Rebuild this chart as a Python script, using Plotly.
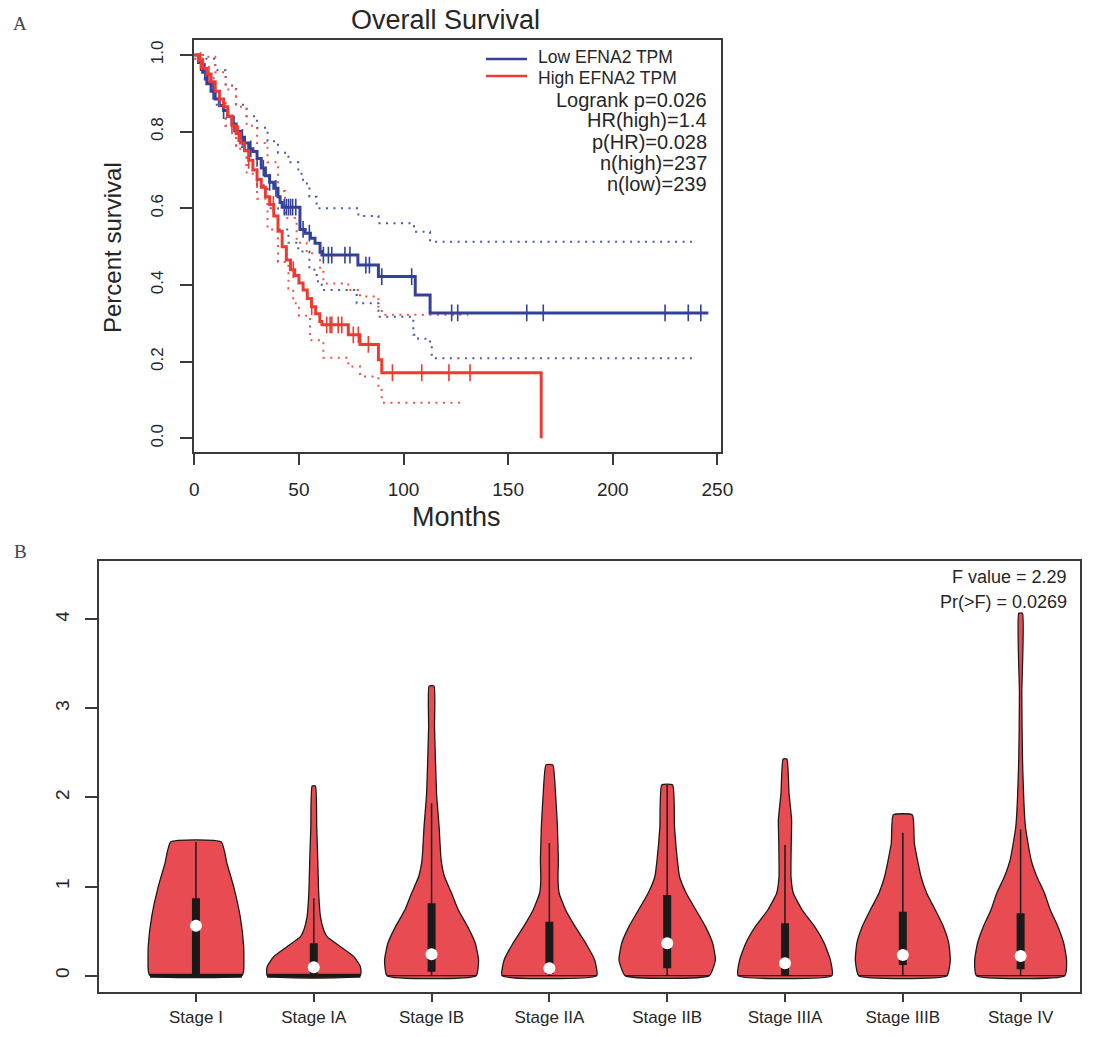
import numpy as np
import plotly.graph_objects as go

W, H = 1105, 1037

# ---------------- Panel A: Kaplan-Meier data (months, survival) ----------------
low_t = [0, 2, 4, 6, 8, 10, 12, 14, 16, 18, 20, 22, 24, 26, 28, 30, 32, 34, 36, 38, 40,
         41, 42, 50.5, 53, 55.5, 57.7, 60.1, 61, 78.2, 88, 105.6, 112.7, 245.7]
low_s = [1.0, 0.98, 0.955, 0.925, 0.905, 0.885, 0.868, 0.855, 0.84, 0.82, 0.80, 0.785, 0.77,
         0.755, 0.748, 0.73, 0.705, 0.685, 0.668, 0.652, 0.63,
         0.615, 0.603, 0.545, 0.535, 0.522, 0.509, 0.487, 0.478, 0.452, 0.422, 0.374, 0.327, 0.327]
high_t = [0, 2, 4, 6, 8, 10, 12, 14, 16, 18, 20, 22, 24, 26, 28, 30, 32, 34, 36, 38,
          40, 42, 44, 46, 48, 50, 52, 54, 56, 58, 60, 61, 73.6, 79.2, 88, 89.6, 165.8]
high_s = [1.0, 0.985, 0.965, 0.95, 0.93, 0.905, 0.885, 0.865, 0.84, 0.815,
          0.795, 0.77, 0.75, 0.725, 0.70, 0.675, 0.655, 0.63, 0.61, 0.58,
          0.54, 0.50, 0.465, 0.44, 0.425, 0.405, 0.387, 0.365, 0.343, 0.325, 0.305,
          0.296, 0.27, 0.245, 0.205, 0.171, 0.0]

low_cens = [3, 5, 9, 14, 19, 23, 27, 30, 33, 36, 39, 43, 44, 45, 46, 47, 48.5, 52, 55,
            61.7, 64.1, 65.7, 72, 74.4, 82, 83.7, 89.6, 103.9, 123, 125.9, 158.9, 166.8,
            225, 236.1, 242.1]
high_cens = [3, 7, 12, 18, 21, 26, 30, 37.8, 47.3, 56.1, 63.3, 64.9, 65.7, 68.8, 70.5,
             76, 78.4, 83.2, 94.7, 108.7, 121.7, 131.8]

low_up_t = [0, 5, 10, 15, 20, 25, 30, 35, 40, 45, 49.7, 52, 55, 58.5, 78.4, 88, 105, 112.7, 240]
low_up_s = [1.0, 0.99, 0.96, 0.92, 0.87, 0.84, 0.81, 0.775, 0.745, 0.72, 0.69, 0.665,
            0.63, 0.6, 0.58, 0.561, 0.539, 0.513, 0.513]
low_lo_t = [0, 5, 10, 15, 20, 25, 30, 35, 40, 45, 49.7, 55, 58.5, 60.9, 77.6, 88, 104.7, 107,
            112.7, 113.5, 239.4]
low_lo_s = [0.99, 0.93, 0.87, 0.815, 0.76, 0.71, 0.66, 0.6, 0.545, 0.51, 0.487, 0.44, 0.41,
            0.387, 0.352, 0.317, 0.27, 0.26, 0.243, 0.209, 0.209]
high_up_t = [0, 5, 10, 15, 20, 25, 30, 35, 40, 43.4, 48.9, 53.7, 60.1, 61.7, 73.6, 79.2, 88, 89.6, 131]
high_up_s = [1.0, 0.995, 0.955, 0.91, 0.865, 0.815, 0.77, 0.72, 0.645, 0.575, 0.51, 0.483,
             0.44, 0.404, 0.387, 0.37, 0.343, 0.322, 0.322]
high_lo_t = [0, 5, 10, 15, 20, 25, 30, 35, 40, 45, 47.3, 50, 55.3, 61.7, 73.6, 79.2, 88, 89.6, 129.4]
high_lo_s = [0.99, 0.94, 0.875, 0.815, 0.755, 0.69, 0.625, 0.545, 0.46, 0.39, 0.352, 0.32,
             0.256, 0.21, 0.187, 0.161, 0.126, 0.093, 0.093]

km_ticks_x = [0, 50, 100, 150, 200, 250]
km_ticks_y = [0.0, 0.2, 0.4, 0.6, 0.8, 1.0]
legend_labels = ["Low EFNA2 TPM", "High EFNA2 TPM"]
km_stats = ["Logrank p=0.026", "HR(high)=1.4", "p(HR)=0.028", "n(high)=237", "n(low)=239"]

# ---------------- Panel B: violin data ----------------
stages = ["Stage I", "Stage IA", "Stage IB", "Stage IIA", "Stage IIB", "Stage IIIA",
          "Stage IIIB", "Stage IV"]
violin_levels = [
    [0, 0.06, 0.33, 0.66, 1.0, 1.26, 1.5],
    [0, 0.1, 0.214, 0.325, 0.438, 0.51, 0.66, 0.925, 1.3, 1.67, 2.129],
    [0, 0.176, 0.364, 0.55, 0.737, 0.925, 1.11, 1.3, 1.67, 2.05, 2.79, 3.25],
    [0, 0.176, 0.364, 0.55, 0.737, 0.925, 1.074, 1.30, 1.676, 2.05, 2.366],
    [0, 0.176, 0.364, 0.55, 0.737, 0.925, 1.11, 1.30, 1.67, 2.14],
    [0, 0.176, 0.364, 0.55, 0.737, 0.925, 1.11, 1.486, 1.75, 2.05, 2.432],
    [0, 0.176, 0.364, 0.55, 0.737, 0.925, 1.11, 1.486, 1.804],
    [0, 0.176, 0.364, 0.55, 0.737, 0.925, 1.11, 1.30, 1.67, 2.42, 3.17, 4.067],
]
violin_halfwidths = [
    [0.390, 0.405, 0.405, 0.376, 0.320, 0.263, 0.215],
    [0.396, 0.396, 0.340, 0.227, 0.113, 0.085, 0.057, 0.042, 0.034, 0.025, 0.014],
    [0.378, 0.399, 0.371, 0.306, 0.227, 0.170, 0.110, 0.081, 0.064, 0.042, 0.025, 0.021],
    [0.402, 0.384, 0.309, 0.219, 0.138, 0.083, 0.073, 0.076, 0.068, 0.052, 0.029],
    [0.357, 0.409, 0.386, 0.325, 0.244, 0.162, 0.105, 0.086, 0.062, 0.046],
    [0.398, 0.385, 0.333, 0.252, 0.146, 0.071, 0.051, 0.053, 0.056, 0.034, 0.016],
    [0.374, 0.403, 0.390, 0.345, 0.276, 0.203, 0.155, 0.098, 0.081],
    [0.374, 0.390, 0.366, 0.317, 0.252, 0.203, 0.138, 0.089, 0.041, 0.016, 0.010, 0.016],
]
q1 = [0, 0, 0.045, 0.02, 0.083, 0, 0.12, 0.072]
q3 = [0.869, 0.364, 0.8125, 0.606, 0.906, 0.588, 0.718, 0.70]
medians = [0.561, 0.094, 0.24, 0.083, 0.364, 0.139, 0.232, 0.221]
whisk_lo = [0, 0, 0, 0, 0, 0, 0, 0]
whisk_hi = [1.5, 0.869, 1.935, 1.49, 2.14, 1.467, 1.605, 1.643]
base_lw = [4, 4, 1.3, 1.3, 1.3, 1.3, 1.3, 1.3]
anova_text = ["F value = 2.29", "Pr(>F) = 0.0269"]
violin_ticks_y = [0, 1, 2, 3, 4]

# ---------------- styles ----------------
BLUE = "#34409a"
RED = "#ee3a30"
BLUE_CI = "#4957b0"
RED_CI = "#f0524a"
VFILL = "#e84c52"
TXT = "#262626"
AX = "#3a3a3a"
FONT = "Liberation Sans, Arial, sans-serif"


def step_at(ts, ss, c):
    idx = np.searchsorted(np.asarray(ts), c, side="right") - 1
    return np.asarray(ss)[idx]


fig = go.Figure()

# CI dotted lines
for t, s, col in [(low_up_t, low_up_s, BLUE_CI), (low_lo_t, low_lo_s, BLUE_CI),
                  (high_up_t, high_up_s, RED_CI), (high_lo_t, high_lo_s, RED_CI)]:
    fig.add_trace(go.Scatter(x=t, y=s, mode="lines", line=dict(color=col, width=2, dash="2px,5.5px", shape="hv"),
                             xaxis="x", yaxis="y", showlegend=False, hoverinfo="skip"))

# KM curves
for t, s, cens, col in [(low_t, low_s, low_cens, BLUE), (high_t, high_s, high_cens, RED)]:
    fig.add_trace(go.Scatter(x=t, y=s, mode="lines", line=dict(color=col, width=3, shape="hv"),
                             xaxis="x", yaxis="y", showlegend=False))
    cy = [float(step_at(t, s, c)) for c in cens]
    fig.add_trace(go.Scatter(x=cens, y=cy, mode="markers",
                             marker=dict(symbol="line-ns", size=12, line=dict(color=col, width=1.6)),
                             xaxis="x", yaxis="y", showlegend=False))

# Violins
for i, name in enumerate(stages):
    c = i + 1
    lv = np.asarray(violin_levels[i])
    hw = np.asarray(violin_halfwidths[i])
    xs = np.concatenate([c - hw, (c + hw)[::-1], [c - hw[0]]])
    ys = np.concatenate([lv, lv[::-1], [lv[0]]])
    fig.add_trace(go.Scatter(x=xs, y=ys, mode="lines", fill="toself", fillcolor=VFILL,
                             line=dict(color="#1a1a1a", width=1.3, shape="spline", smoothing=0.45),
                             xaxis="x2", yaxis="y2", showlegend=False, hoverinfo="skip"))
    fig.add_trace(go.Scatter(x=[c - hw[0], c + hw[0]], y=[lv[0], lv[0]], mode="lines",
                             line=dict(color="#1a1a1a", width=base_lw[i]),
                             xaxis="x2", yaxis="y2", showlegend=False, hoverinfo="skip"))
    fig.add_trace(go.Scatter(x=[c, c], y=[whisk_lo[i], whisk_hi[i]], mode="lines",
                             line=dict(color="#1a1a1a", width=1.5),
                             xaxis="x2", yaxis="y2", showlegend=False, hoverinfo="skip"))
    fig.add_trace(go.Scatter(x=[c, c], y=[q1[i], q3[i]], mode="lines",
                             line=dict(color="#1a1a1a", width=8),
                             xaxis="x2", yaxis="y2", showlegend=False, hoverinfo="skip"))
    fig.add_trace(go.Scatter(x=[c], y=[medians[i]], mode="markers",
                             marker=dict(color="white", size=12, line=dict(width=0)),
                             xaxis="x2", yaxis="y2", showlegend=False, hoverinfo="skip"))

# ---------------- layout ----------------
def px2x(p):
    return p / W


def px2y(p):
    return 1 - p / H


axis_common = dict(showline=True, mirror=True, linecolor=AX, linewidth=1.5, showgrid=False,
                   zeroline=False, ticks="outside", tickcolor=AX, tickwidth=1.5, automargin=False)

fig.update_layout(
    width=W, height=H, margin=dict(l=0, r=0, t=0, b=0, pad=0), autosize=False,
    paper_bgcolor="white", plot_bgcolor="white", showlegend=False,
    xaxis=dict(domain=[px2x(194.3), px2x(720.7)], range=[0, 251.6], tickvals=km_ticks_x,
               ticklen=11, ticklabelstandoff=8, anchor="y", **axis_common,
               tickfont=dict(family=FONT, color=TXT, size=19)),
    yaxis=dict(domain=[px2y(452.3), px2y(40)], range=[-0.0365, 1.039], tickvals=km_ticks_y,
               ticktext=[f"{v:.1f}" for v in km_ticks_y], tickangle=-90, ticklen=13,
               ticklabelstandoff=10, anchor="x", **axis_common,
               tickfont=dict(family=FONT, color=TXT, size=17)),
    xaxis2=dict(domain=[px2x(99), px2x(1080)], range=[0.177, 8.504], tickvals=list(range(1, 9)),
                ticktext=stages, ticklen=9, ticklabelstandoff=0, anchor="y2", **axis_common,
                tickfont=dict(family=FONT, color=TXT, size=17)),
    yaxis2=dict(domain=[px2y(991.7), px2y(561)], range=[-0.18, 4.654], tickvals=violin_ticks_y,
                tickangle=-90, ticklen=12, ticklabelstandoff=9, anchor="x2", **axis_common,
                tickfont=dict(family=FONT, color=TXT, size=19)),
)

ann = []
ann.append(dict(text="Overall Survival", x=px2x(445), y=px2y(20), xref="paper", yref="paper",
                showarrow=False, font=dict(family=FONT, size=27, color=TXT), xanchor="center", yanchor="middle"))
ann.append(dict(text="Percent survival", x=px2x(112), y=px2y(248), xref="paper", yref="paper",
                showarrow=False, textangle=-90, font=dict(family=FONT, size=24, color=TXT),
                xanchor="center", yanchor="middle"))
ann.append(dict(text="Months", x=px2x(457), y=px2y(517), xref="paper", yref="paper",
                showarrow=False, font=dict(family=FONT, size=27, color=TXT), xanchor="center", yanchor="middle"))
ann.append(dict(text="A", x=px2x(11), y=px2y(23), xref="paper", yref="paper", showarrow=False,
                font=dict(family="Liberation Serif, Times New Roman, serif", size=19, color="#444"),
                xanchor="left", yanchor="middle"))
ann.append(dict(text="B", x=px2x(12), y=px2y(551), xref="paper", yref="paper", showarrow=False,
                font=dict(family="Liberation Serif, Times New Roman, serif", size=19, color="#444"),
                xanchor="left", yanchor="middle"))
legend_y = [57.5, 77.5]
for lab, yy in zip(legend_labels, legend_y):
    ann.append(dict(text=lab, x=px2x(536), y=px2y(yy), xref="paper", yref="paper", showarrow=False,
                    font=dict(family=FONT, size=17.5, color=TXT), xanchor="left", yanchor="middle"))
stat_y = [99.8, 120.5, 141.5, 163, 184.3]
for lab, yy in zip(km_stats, stat_y):
    ann.append(dict(text=lab, x=px2x(709), y=px2y(yy), xref="paper", yref="paper", showarrow=False,
                    font=dict(family=FONT, size=20, color=TXT), xanchor="right", yanchor="middle"))
for lab, yy in zip(anova_text, [577.3, 601.7]):
    ann.append(dict(text=lab, x=px2x(1069), y=px2y(yy), xref="paper", yref="paper", showarrow=False,
                    font=dict(family=FONT, size=18, color=TXT), xanchor="right", yanchor="middle"))

shapes = []
for col, yy in zip([BLUE, RED], [59, 76]):
    shapes.append(dict(type="line", xref="paper", yref="paper", x0=px2x(486), x1=px2x(527),
                       y0=px2y(yy), y1=px2y(yy), line=dict(color=col, width=2.5)))

fig.update_layout(annotations=ann, shapes=shapes)
fig.write_html(
    "out.html",
    config={"responsive": False, "displayModeBar": False},
    post_script=("document.body.style.margin='0';document.body.style.padding='0';"
                 "document.body.style.overflow='hidden';"
                 "Plotly.relayout('{plot_id}', {width: %d, height: %d});" % (W, H)),
)
